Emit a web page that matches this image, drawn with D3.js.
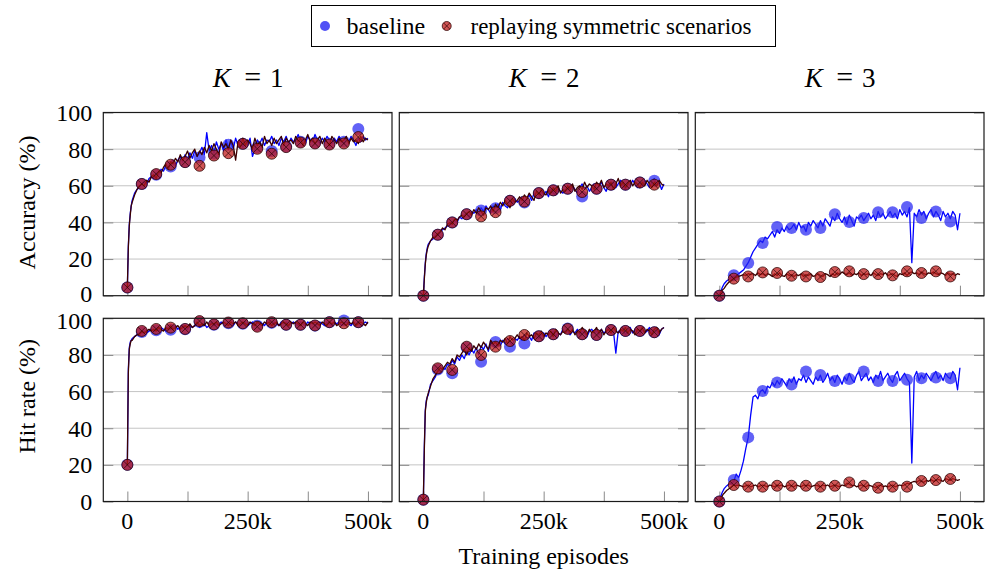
<!DOCTYPE html>
<html>
<head>
<meta charset="utf-8">
<script src="https://cdn.jsdelivr.net/npm/d3@7"></script>
<style>
    body { margin: 0; background: #fff; }
</style>
</head>
<body>
<div id="chart"></div>
<script>
// episodes (thousands) where the markers sit
const checkpoints = [0, 30, 60, 90, 120, 150, 180, 210, 240, 270, 300, 330, 360, 390, 420, 450, 480];
// episodes (thousands) of the logged curve
const lineSteps = [0, 2, 4, 6, 8].concat(d3.range(10, 505, 5));

const xTicks = [0, 125, 250, 375, 500];
const xTickLabels = {0: '0', 250: '250k', 500: '500k'};
const yTicks = [0, 20, 40, 60, 80, 100];
const kValues = [1, 2, 3];
const rowLabels = ['Accuracy (%)', 'Hit rate (%)'];
const seriesNames = ['baseline', 'replaying symmetric scenarios'];

// ---- accuracy, K = 1
const accK1Base = [4.5, 27, 39, 45, 49,
    52, 56, 58, 59, 61, 62, 61, 64, 65,
    64, 67, 66, 69, 68, 71, 70, 73, 74, 71,
    74, 76, 73, 77, 74, 78, 75, 79, 76, 78,
    81, 77, 89, 79, 82, 78, 84, 80, 83, 79,
    85, 81, 84, 80, 86, 82, 85, 81, 84, 82,
    86, 76, 80, 85, 83, 86, 82, 85, 84, 87,
    83, 85, 82, 86, 84, 87, 83, 86, 84, 85,
    88, 84, 86, 83, 87, 85, 84, 88, 85, 83,
    86, 84, 87, 85, 83, 86, 84, 87, 85, 83,
    86, 84, 87, 85, 82, 86, 84, 87, 85, 86];
const accK1Replay = [4.5, 26, 38, 44, 49,
    51, 55, 58, 60, 61, 60, 63, 62, 65,
    66, 64, 68, 67, 70, 72, 69, 73, 72, 75,
    73, 77, 74, 76, 79, 75, 78, 80, 76, 79,
    77, 81, 78, 82, 79, 83, 80, 77, 84, 81,
    83, 80, 85, 82, 74, 84, 81, 86, 82, 85,
    83, 80, 86, 82, 84, 81, 87, 83, 85, 82,
    86, 83, 85, 87, 82, 86, 84, 85, 83, 87,
    84, 86, 82, 85, 88, 84, 86, 83, 85, 87,
    83, 86, 84, 82, 87, 85, 83, 86, 84, 85,
    87, 83, 86, 84, 85, 83, 87, 84, 86, 85];
const accK1BaseMarks = [4.5, 61, 66, 70.5, 73, 75.5, 77.5, 82.4, 83, 81, 79, 81.5, 84, 83.5, 83, 84, 91];
const accK1ReplayMarks = [4.5, 61, 66.4, 71.5, 72.9, 70.9, 76.5, 77.8, 82.9, 80.2, 77.5, 81.1, 83.6, 83.1, 82.5, 83.1, 86.6];

// ---- accuracy, K = 2
const accK2Base = [0, 10, 18, 23, 26,
    28, 30, 31, 33, 33, 35, 36, 37, 38,
    39, 40, 41, 40, 43, 42, 44, 45, 43, 46,
    45, 47, 44, 48, 46, 49, 47, 45, 49, 48,
    50, 47, 51, 49, 48, 52, 50, 53, 51, 52,
    54, 51, 53, 55, 52, 56, 54, 53, 57, 55,
    57, 54, 58, 56, 55, 59, 57, 56, 58, 59,
    57, 60, 58, 56, 59, 61, 58, 60, 57, 59,
    61, 58, 60, 62, 59, 57, 61, 60, 62, 59,
    61, 63, 60, 58, 62, 60, 63, 61, 59, 62,
    60, 63, 61, 59, 62, 64, 60, 62, 58, 61];
const accK2Replay = [0, 9, 17, 22, 25,
    27, 30, 32, 32, 34, 35, 37, 36, 39,
    40, 39, 42, 41, 43, 44, 43, 45, 46, 44,
    47, 45, 48, 46, 44, 48, 47, 49, 46, 50,
    48, 51, 49, 52, 50, 48, 53, 51, 52, 54,
    52, 55, 53, 56, 54, 52, 57, 55, 58, 56,
    55, 58, 56, 59, 57, 60, 56, 58, 57, 60,
    58, 61, 57, 59, 60, 58, 62, 59, 61, 60,
    58, 62, 60, 63, 59, 61, 60, 62, 58, 61,
    64, 60, 62, 59, 61, 63, 60, 62, 61, 59,
    62, 60, 63, 61, 59, 62, 60, 63, 61, 60];
const accK2BaseMarks = [0, 33.3, 40, 44.5, 46.5, 47.8, 51.8, 50.9, 56, 57.5, 58.4, 54.2, 58.4, 60.6, 60.6, 61.8, 62.7];
const accK2ReplayMarks = [0, 33.3, 40, 44.5, 43.3, 45.6, 51.8, 51.4, 56, 57.5, 58.4, 56.6, 58.4, 60.6, 60.6, 61.8, 60.6];

// ---- accuracy, K = 3
const accK3Base = [0, 1.5, 3, 4.5, 5.5,
    6.5, 8, 9, 10, 10.5, 11, 12, 13, 14,
    16, 18, 21, 24, 26, 28, 30, 29, 32, 31,
    33, 35, 32, 36, 34, 37, 35, 38, 36, 37,
    39, 36, 40, 37, 38, 35, 40, 38, 41, 39,
    37, 41, 38, 42, 40, 38, 43, 41, 45, 42,
    40, 43, 39, 44, 41, 38, 43, 42, 44, 41,
    43, 45, 42, 44, 41, 46, 43, 45, 42, 44,
    46, 43, 45, 42, 47, 44, 46, 43, 48, 18,
    45, 43, 47, 44, 46, 42, 45, 47, 43, 46,
    44, 41, 46, 43, 45, 42, 46, 44, 36, 45];
const accK3Replay = [0, 1, 2, 3, 3.5,
    4, 6, 7.5, 8.5, 9.5, 10, 10.5, 11, 11.5,
    11, 12, 11.5, 12, 11, 12.5, 11.5, 12, 11, 12,
    11.5, 10.5, 12, 11, 12.5, 11, 10.5, 12, 11, 11.5,
    10.5, 11.5, 11, 12, 10.5, 11.5, 11, 12, 10.5, 11,
    12, 11, 10.5, 12, 11.5, 10.5, 12, 11, 12.5, 11.5,
    13, 12, 11.5, 12.5, 11, 12, 11.5, 12.5, 11, 12,
    11.5, 12, 11, 12.5, 11.5, 11, 12, 11.5, 12.5, 11,
    11.5, 12, 11, 10.5, 12, 11.5, 12.5, 11, 12.5, 13,
    12, 12.5, 11.5, 13, 12, 11.5, 12.5, 12, 13, 12,
    11.5, 12.5, 12, 11, 12.5, 11.5, 12, 11, 12, 11.5];
const accK3BaseMarks = [0, 11.1, 17.8, 28.7, 37.5, 37, 36, 36.9, 44.5, 40.2, 42.4, 45.6, 45.6, 48.4, 42.4, 46, 40.5];
const accK3ReplayMarks = [0, 9.3, 10.5, 12.7, 12.4, 10.9, 10.5, 10.2, 12.9, 13.3, 11.8, 11.8, 11.1, 13.3, 12.4, 13.3, 10.5];

// ---- hit rate, K = 1
const hitK1Base = [20, 72, 84, 87, 88,
    89, 90, 91, 92, 92, 93, 92, 93, 94,
    93, 94, 93, 95, 94, 93, 95, 94, 95, 96,
    94, 95, 96, 95, 94, 96, 95, 96, 97, 95,
    96, 97, 95, 96, 98, 96, 97, 96, 98, 97,
    96, 98, 97, 96, 98, 97, 96, 97, 98, 96,
    97, 98, 96, 97, 98, 97, 96, 98, 97, 96,
    98, 97, 96, 98, 97, 98, 96, 97, 98, 97,
    96, 98, 97, 96, 98, 97, 98, 96, 97, 98,
    97, 96, 98, 97, 96, 98, 97, 98, 96, 97,
    98, 97, 96, 98, 97, 98, 96, 97, 98, 97];
const hitK1Replay = [20, 70, 83, 86, 88,
    88, 90, 91, 91, 93, 92, 93, 94, 93,
    94, 93, 95, 94, 93, 95, 94, 96, 94, 95,
    96, 94, 95, 96, 95, 97, 95, 96, 98, 96,
    97, 96, 98, 96, 97, 97, 98, 96, 97, 98,
    97, 96, 98, 97, 98, 96, 97, 98, 97, 96,
    98, 97, 96, 98, 97, 96, 98, 97, 98, 96,
    97, 98, 96, 97, 98, 97, 96, 98, 97, 98,
    97, 96, 98, 97, 96, 98, 97, 98, 97, 96,
    98, 97, 96, 98, 97, 98, 96, 97, 98, 97,
    96, 98, 97, 98, 96, 97, 98, 97, 96, 98];
const hitK1BaseMarks = [20, 92.5, 93.5, 93.7, 94, 98, 96.5, 97.3, 97, 96, 97.5, 96.5, 96.5, 96, 97.9, 98.8, 97.9];
const hitK1ReplayMarks = [20, 93.1, 94.2, 94.9, 94.2, 98.5, 96.7, 97.7, 97.3, 95.4, 97.9, 96.5, 96.5, 96.1, 97.9, 97.3, 97.9];

// ---- hit rate, K = 2
const hitK2Base = [1, 30, 50, 55, 57,
    58, 64, 66, 68, 72, 70, 73, 72, 75,
    74, 77, 75, 79, 77, 80, 78, 82, 80, 83,
    81, 84, 80, 85, 83, 86, 82, 87, 85, 84,
    87, 85, 88, 86, 89, 87, 85, 89, 88, 90,
    88, 91, 89, 90, 88, 92, 90, 89, 91, 92,
    90, 92, 91, 93, 90, 92, 91, 94, 92, 93,
    91, 93, 92, 94, 91, 93, 92, 90, 93, 94,
    92, 93, 91, 94, 92, 93, 95, 92, 93, 81,
    93, 92, 94, 91, 93, 95, 92, 94, 93, 91,
    94, 92, 93, 95, 92, 94, 93, 91, 94, 95];
const hitK2Replay = [1, 28, 49, 54, 57,
    59, 63, 67, 69, 71, 73, 72, 74, 76,
    75, 78, 76, 80, 79, 81, 83, 80, 84, 82,
    85, 83, 86, 84, 87, 85, 83, 88, 86, 87,
    85, 88, 87, 89, 86, 90, 88, 89, 91, 89,
    90, 88, 92, 90, 91, 89, 92, 91, 93, 90,
    92, 91, 93, 90, 94, 92, 91, 93, 92, 94,
    92, 94, 91, 93, 92, 95, 93, 91, 94, 92,
    93, 95, 92, 94, 91, 93, 94, 92, 95, 93,
    92, 94, 93, 95, 92, 94, 93, 91, 94, 93,
    95, 92, 94, 93, 91, 94, 95, 92, 94, 95];
const hitK2BaseMarks = [1, 72, 70, 84, 76.3, 87, 84.5, 86.3, 90.2, 91.3, 94.5, 91.3, 90.9, 93.6, 93.1, 93.1, 92.4];
const hitK2ReplayMarks = [1, 72.7, 71.8, 84.5, 80, 84.5, 87.6, 90.9, 90.2, 91.3, 94.2, 91.3, 90.9, 93.6, 93.1, 93.1, 92.4];

// ---- hit rate, K = 3
const hitK3Base = [0, 2, 3.5, 5, 6,
    7, 8.5, 9.5, 10, 11, 15, 13, 17, 22,
    29, 35, 47, 57, 58, 56, 60, 61, 59, 63,
    62, 65, 63, 66, 64, 67, 65, 63, 67, 65,
    68, 64, 67, 66, 69, 65, 68, 66, 64, 68,
    66, 69, 65, 67, 70, 66, 68, 65, 69, 67,
    64, 68, 66, 70, 67, 65, 69, 71, 66, 68,
    70, 66, 68, 65, 69, 67, 71, 66, 68, 70,
    67, 65, 69, 71, 66, 68, 70, 67, 65, 21,
    68, 71, 66, 69, 67, 70, 68, 66, 69, 71,
    67, 69, 66, 70, 68, 67, 71, 69, 61, 73];
const hitK3Replay = [0, 1, 2, 3, 4,
    4.5, 6, 7, 8, 9, 8.5, 9, 8.5, 8,
    8.5, 9, 8, 8.5, 9, 8, 8.5, 9, 8.5, 8,
    9, 8.5, 8, 9, 8.5, 9, 8, 8.5, 9, 8.5,
    8, 9, 8.5, 8, 9, 8.5, 9, 8, 8.5, 9,
    8.5, 8, 9, 8.5, 9, 8, 8.5, 9, 8.5, 8,
    9, 8.5, 10, 9.5, 8.5, 9, 8, 8.5, 9, 8.5,
    8, 9, 8.5, 8, 7.5, 8.5, 9, 8, 8.5, 8,
    8.5, 9, 8, 8.5, 9, 8.5, 9, 10, 9.5, 10.5,
    11, 10.5, 11.5, 11, 10.5, 11.5, 11, 12, 11, 11.5,
    12, 11.5, 11, 12.5, 12, 11.5, 12.5, 12, 11.5, 12];
const hitK3BaseMarks = [0, 11.7, 35, 60.3, 65, 63.9, 70.9, 69.1, 65.8, 66.9, 70.9, 65.8, 65.8, 66.4, 67.3, 67.7, 67.3];
const hitK3ReplayMarks = [0, 9, 8.1, 8.1, 8.6, 8.6, 8.6, 8.1, 8.6, 10.4, 8.6, 7.5, 8.1, 8.1, 11.2, 11.7, 12.3];

const panels = [
    {row: 0, col: 0, base: accK1Base, replay: accK1Replay, baseMarks: accK1BaseMarks, replayMarks: accK1ReplayMarks},
    {row: 0, col: 1, base: accK2Base, replay: accK2Replay, baseMarks: accK2BaseMarks, replayMarks: accK2ReplayMarks},
    {row: 0, col: 2, base: accK3Base, replay: accK3Replay, baseMarks: accK3BaseMarks, replayMarks: accK3ReplayMarks},
    {row: 1, col: 0, base: hitK1Base, replay: hitK1Replay, baseMarks: hitK1BaseMarks, replayMarks: hitK1ReplayMarks},
    {row: 1, col: 1, base: hitK2Base, replay: hitK2Replay, baseMarks: hitK2BaseMarks, replayMarks: hitK2ReplayMarks},
    {row: 1, col: 2, base: hitK3Base, replay: hitK3Replay, baseMarks: hitK3BaseMarks, replayMarks: hitK3ReplayMarks}
];

const W = 992, H = 579;
const colLeft = [103.3, 399.3, 695.3];
const rowTop = [112.5, 318.3];
const pw = 288.7, ph = 183.2;

const blueLine = '#0000ff';
const blueFill = '#2626f2';
const redFill = '#c01a1a';
const brownLine = '#3c0000';

const svg = d3.select('#chart').append('svg')
    .attr('width', W)
    .attr('height', H);

function label(sel) {
    return sel.append('text')
        .style('font-family', 'Liberation Serif')
        .style('font-size', '24px')
        .attr('fill', '#000');
}

function drawReplayMark(sel, r) {
    sel.append('circle')
        .attr('r', r)
        .attr('fill', redFill)
        .attr('fill-opacity', 0.74)
        .attr('stroke', '#2a0000')
        .attr('stroke-opacity', 0.75)
        .attr('stroke-width', 1);
    const a = r * 0.7;
    sel.append('path')
        .attr('d', `M${-a},${-a}L${a},${a}M${-a},${a}L${a},${-a}`)
        .attr('stroke', '#2a0000')
        .attr('stroke-opacity', 0.75)
        .attr('stroke-width', 0.9);
}

panels.forEach(p => {
    const g = svg.append('g')
        .attr('transform', `translate(${colLeft[p.col]},${rowTop[p.row]})`);

    const x = d3.scaleLinear().domain([-50, 550]).range([0, pw]);
    const y = d3.scaleLinear().domain([0, 100]).range([ph, 0]);

    // grid
    g.append('g')
        .selectAll('line')
        .data(yTicks.filter(t => t > 0 && t < 100))
        .enter().append('line')
        .attr('x1', 0).attr('x2', pw)
        .attr('y1', d => y(d)).attr('y2', d => y(d))
        .attr('stroke', '#c4c4c4')
        .attr('stroke-width', 1);

    // y ticks, both sides, pointing in
    g.append('g')
        .call(d3.axisLeft(y).tickValues(yTicks).tickSize(-10).tickFormat(''))
        .call(a => a.select('.domain').remove())
        .selectAll('line').attr('stroke', '#8a8a8a');
    g.append('g')
        .attr('transform', `translate(${pw},0)`)
        .call(d3.axisRight(y).tickValues(yTicks).tickSize(-10).tickFormat(''))
        .call(a => a.select('.domain').remove())
        .selectAll('line').attr('stroke', '#8a8a8a');

    // x ticks at bottom, pointing in
    g.append('g')
        .attr('transform', `translate(0,${ph})`)
        .call(d3.axisBottom(x).tickValues(xTicks).tickSize(-10).tickFormat(''))
        .call(a => a.select('.domain').remove())
        .selectAll('line').attr('stroke', '#8a8a8a');

    const line = d3.line()
        .x((d, i) => x(lineSteps[i]))
        .y(d => y(d));

    g.append('path')
        .datum(p.base)
        .attr('fill', 'none')
        .attr('stroke', blueLine)
        .attr('stroke-width', 1.3)
        .attr('stroke-linejoin', 'round')
        .attr('d', line);

    g.selectAll('.base-mark')
        .data(p.baseMarks)
        .enter().append('circle')
        .attr('class', 'base-mark')
        .attr('cx', (d, i) => x(checkpoints[i]))
        .attr('cy', d => y(d))
        .attr('r', 6)
        .attr('fill', blueFill)
        .attr('fill-opacity', 0.72);

    g.append('path')
        .datum(p.replay)
        .attr('fill', 'none')
        .attr('stroke', brownLine)
        .attr('stroke-width', 1.3)
        .attr('stroke-linejoin', 'round')
        .attr('d', line);

    g.selectAll('.replay-mark')
        .data(p.replayMarks)
        .enter().append('g')
        .attr('class', 'replay-mark')
        .attr('transform', (d, i) => `translate(${x(checkpoints[i])},${y(d)})`)
        .each(function() { drawReplayMark(d3.select(this), 5.5); });

    // frame
    g.append('rect')
        .attr('width', pw)
        .attr('height', ph)
        .attr('fill', 'none')
        .attr('stroke', '#1a1a1a')
        .attr('stroke-width', 1.2);

    if (p.col === 0) {
        const yl = g.append('g');
        yTicks.forEach(t => {
            // nudge the labels that meet between the two rows apart a little
            const nudge = (p.row === 0 && t === 0) ? -2 : (p.row === 1 && t === 100) ? 2 : 0;
            label(yl)
                .attr('x', -11)
                .attr('y', y(t) + nudge)
                .attr('dy', '0.35em')
                .attr('text-anchor', 'end')
                .text(t);
        });

        label(g)
            .attr('transform', `translate(${35 - colLeft[0]},${p.row === 0 ? 90 : 78}) rotate(-90)`)
            .attr('text-anchor', 'middle')
            .text(rowLabels[p.row]);
    }

    if (p.row === 1) {
        xTicks.filter(t => xTickLabels[t]).forEach(t => {
            label(g)
                .attr('x', x(t))
                .attr('y', 529 - rowTop[1])
                .attr('text-anchor', 'middle')
                .text(xTickLabels[t]);
        });
    }

    if (p.row === 0) {
        const cx = pw / 2 - 1;
        const title = g.append('g').attr('transform', `translate(${cx},${87 - rowTop[0]})`);
        label(title)
            .attr('x', -25)
            .attr('text-anchor', 'middle')
            .style('font-size', '27px')
            .style('font-style', 'italic')
            .text('K');
        label(title)
            .attr('x', 6)
            .attr('text-anchor', 'middle')
            .style('font-size', '30px')
            .text('=');
        label(title)
            .attr('x', 30)
            .attr('text-anchor', 'middle')
            .style('font-size', '27px')
            .text(kValues[p.col]);
    }
});

label(svg)
    .attr('x', colLeft[1] + pw / 2)
    .attr('y', 564)
    .attr('text-anchor', 'middle')
    .text('Training episodes');

// legend
const legend = svg.append('g');
legend.append('rect')
    .attr('x', 311.5).attr('y', 5.5)
    .attr('width', 464).attr('height', 41)
    .attr('fill', '#fff')
    .attr('stroke', '#000')
    .attr('stroke-width', 1);
legend.append('circle')
    .attr('cx', 325).attr('cy', 26)
    .attr('r', 5)
    .attr('fill', blueFill)
    .attr('fill-opacity', 0.8);
label(legend)
    .attr('x', 346.5).attr('y', 34)
    .text(seriesNames[0]);
drawReplayMark(legend.append('g').attr('transform', 'translate(446.7,26)'), 4.5);
label(legend)
    .attr('x', 470.5).attr('y', 34)
    .style('font-size', '23px')
    .text(seriesNames[1]);
</script>
</body>
</html>
